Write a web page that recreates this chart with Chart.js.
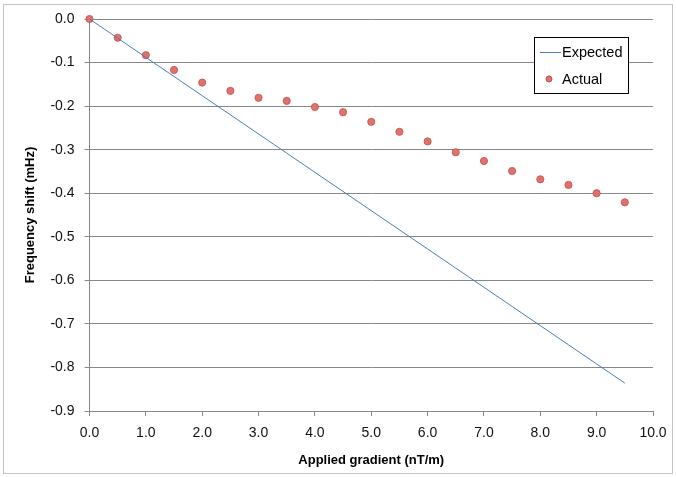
<!DOCTYPE html>
<html>
<head>
<meta charset="utf-8">
<script src="https://cdn.jsdelivr.net/npm/chart.js@4.4.1/dist/chart.umd.min.js"></script>
<style>
  html, body { margin: 0; padding: 0; background: #fff; }
  #wrap { position: relative; width: 676px; height: 477px; }
  #frame { position: absolute; left: 3px; top: 4px; width: 668px; height: 468px; border: 1px solid #c4c4c4; pointer-events: none; }
</style>
</head>
<body>
<div id="wrap">
  <canvas id="chart" width="676" height="477"></canvas>
  <div id="frame"></div>
</div>
<script>
const gradient = [0, 0.5, 1, 1.5, 2, 2.5, 3, 3.5, 4, 4.5, 5, 5.5, 6, 6.5, 7, 7.5, 8, 8.5, 9, 9.5];
const expected = [0, -0.044, -0.088, -0.132, -0.176, -0.22, -0.264, -0.308, -0.352, -0.396,
  -0.44, -0.484, -0.528, -0.572, -0.616, -0.66, -0.704, -0.748, -0.792, -0.836];
const actual = [0, -0.043, -0.083, -0.117, -0.146, -0.165, -0.181, -0.188, -0.202, -0.214,
  -0.236, -0.259, -0.281, -0.306, -0.326, -0.349, -0.368, -0.381, -0.400, -0.421];

const FONT = "'Liberation Sans', Arial, sans-serif";

const boxLegend = {
  id: 'boxLegend',
  afterDraw(chart) {
    const ctx = chart.ctx;
    const ds = chart.data.datasets;
    ctx.save();
    ctx.fillStyle = '#fff';
    ctx.fillRect(534, 37, 94, 56);
    ctx.strokeStyle = '#000';
    ctx.lineWidth = 1;
    ctx.strokeRect(534.5, 37.5, 94, 56);
    ctx.font = '14.5px ' + FONT;
    ctx.textBaseline = 'middle';
    ctx.fillStyle = '#000';
    // Expected: line sample
    ctx.strokeStyle = ds[0].borderColor;
    ctx.beginPath();
    ctx.moveTo(540, 52.5);
    ctx.lineTo(561, 52.5);
    ctx.stroke();
    ctx.fillText(ds[0].label, 562, 53);
    // Actual: dot sample
    ctx.fillStyle = ds[1].backgroundColor;
    ctx.strokeStyle = ds[1].borderColor;
    ctx.beginPath();
    ctx.arc(549, 79, 3, 0, Math.PI * 2);
    ctx.fill();
    ctx.stroke();
    ctx.fillStyle = '#000';
    ctx.fillText(ds[1].label, 562, 80);
    ctx.restore();
  }
};

new Chart(document.getElementById('chart'), {
  type: 'scatter',
  data: {
    datasets: [
      {
        label: 'Expected',
        data: gradient.map((x, i) => ({ x: x, y: expected[i] })),
        showLine: true,
        borderColor: '#4a7ebb',
        borderWidth: 1,
        pointRadius: 0,
        fill: false
      },
      {
        label: 'Actual',
        data: gradient.map((x, i) => ({ x: x, y: actual[i] })),
        showLine: false,
        clip: false,
        backgroundColor: '#e0716c',
        borderColor: '#c0504d',
        borderWidth: 0.8,
        pointRadius: 3.6
      }
    ]
  },
  options: {
    responsive: false,
    animation: false,
    layout: { padding: { left: 0, top: 19, right: 23, bottom: 0 } },
    plugins: {
      legend: { display: false },
      tooltip: { enabled: false }
    },
    scales: {
      x: {
        type: 'linear',
        min: 0,
        max: 10,
        ticks: {
          stepSize: 1,
          padding: 9,
          color: '#111',
          font: { family: FONT, size: 14 },
          callback: v => v.toFixed(1)
        },
        grid: { drawOnChartArea: false, drawTicks: true, tickLength: 5, color: '#888' },
        border: { display: true, color: '#888' },
        title: {
          display: true,
          text: 'Applied gradient (nT/m)',
          color: '#000',
          font: { family: FONT, size: 13, weight: 'bold' },
          padding: { top: 0, bottom: 9 }
        },
        afterFit(scale) { scale.height = 66; }
      },
      y: {
        type: 'linear',
        min: -0.9,
        max: 0,
        ticks: {
          stepSize: 0.1,
          padding: 10,
          color: '#111',
          font: { family: FONT, size: 14 },
          callback: v => v.toFixed(1)
        },
        grid: { drawOnChartArea: true, drawTicks: true, tickLength: 5, color: '#888' },
        border: { display: true, color: '#888' },
        title: {
          display: true,
          text: 'Frequency shift (mHz)',
          color: '#000',
          font: { family: FONT, size: 13, weight: 'bold' },
          padding: { top: 23, bottom: 0 }
        },
        afterFit(scale) { scale.width = 89.5; }
      }
    }
  },
  plugins: [boxLegend]
});
</script>
</body>
</html>
